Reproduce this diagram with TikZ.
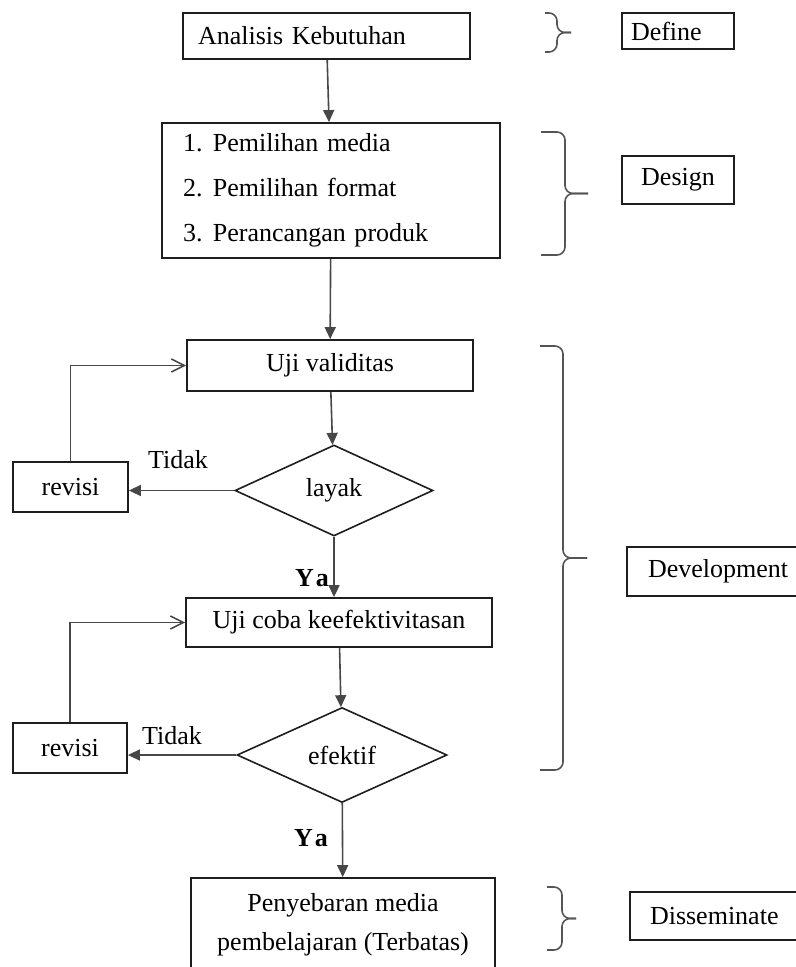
\documentclass[tikz,border=0pt]{standalone}
\usepackage{fontspec}
\setmainfont{Liberation Serif}
\usetikzlibrary{arrows.meta,shapes.geometric}
\definecolor{Ink}{HTML}{1E1E1E}
\definecolor{LineGray}{HTML}{474747}
\definecolor{BraceGray}{HTML}{555555}
\tikzset{
  stepbox/.style={
    draw=Ink, line width=0.9pt, fill=white, inner sep=0pt, align=center,
    font=\fontsize{13pt}{15pt}\selectfont
  },
  decision/.style={
    diamond, draw=Ink, line width=0.8pt, inner sep=0pt,
    font=\fontsize{13pt}{15pt}\selectfont
  },
  choice/.style={font=\fontsize{13pt}{15pt}\selectfont, inner sep=0pt},
  yes/.style={font=\fontsize{13pt}{15pt}\selectfont\bfseries, inner sep=0pt},
  flow/.style={-{Triangle[length=6pt,width=5.5pt]}, line width=0.8pt, draw=LineGray},
  backflow/.style={-{Straight Barb[length=6.5pt,width=6.5pt]}, line width=0.8pt, draw=LineGray},
  bracestroke/.style={draw=BraceGray, line width=0.8pt, rounded corners=4pt}
}
% brace: x0, xv, xtip, ytop, ybot
\newcommand{\phasebrace}[5]{%
  \draw[bracestroke] (#1,#4) -- (#2,#4) -- (#2,{(#4+#5)/2}) -- (#3,{(#4+#5)/2});
  \draw[bracestroke] (#1,#5) -- (#2,#5) -- (#2,{(#4+#5)/2}) -- (#3,{(#4+#5)/2});
}

\begin{document}
\begin{tikzpicture}[x=0.5pt,y=-0.5pt]
    \useasboundingbox (0,0) rectangle (796,967);
    % main column
    \node[stepbox,align=left,text width=128.5pt,inner xsep=7.5pt,minimum height=23pt] (analisis) at (326.5,36) {Analisis Kebutuhan};
    \node[stepbox,align=left,text width=148pt,inner xsep=10.5pt,minimum height=67.5pt,
      font=\fontsize{13pt}{22.5pt}\selectfont] (pilihan) at (331,190.5)
      {\makebox[15pt][l]{1.}Pemilihan media\\\makebox[15pt][l]{2.}Pemilihan format\\\makebox[15pt][l]{3.}Perancangan produk};
    \node[stepbox,minimum width=143pt,minimum height=25.5pt] (validitas) at (330,365.5) {Uji validitas};
    \node[decision,minimum width=99pt,minimum height=45.5pt] (layak) at (334,490.5) {layak};
    \node[stepbox,minimum width=57.5pt,minimum height=25pt] (revisiA) at (70.5,487) {revisi};
    \node[stepbox,minimum width=153pt,minimum height=24.5pt] (ujicoba) at (339,622.5) {Uji coba keefektivitasan};
    \node[decision,minimum width=105pt,minimum height=47.5pt] (efektif) at (342,755) {efektif};
    \node[stepbox,minimum width=57pt,minimum height=25pt] (revisiB) at (70,748) {revisi};
    \node[stepbox,minimum width=152pt,minimum height=47pt,
      font=\fontsize{13pt}{19.5pt}\selectfont] (sebar) at (343,925) {Penyebaran media\\pembelajaran (Terbatas)};
    % phases
    \node[stepbox,align=left,text width=47pt,inner xsep=4.5pt,minimum height=18pt] (define) at (678,31) {Define};
    \node[stepbox,minimum width=56pt,minimum height=24pt] (design) at (678,180) {Design};
    \node[stepbox,align=left,text width=100pt,inner xsep=10.5pt,minimum height=24.5pt] (development) at (748,571.5) {Development};
    \node[stepbox,align=left,text width=100pt,inner xsep=10pt,minimum height=24pt] (disseminate) at (750,916) {Disseminate};
    % labels
    \node[choice] (tidakA) at (178,460) {Tidak};
    \node[choice] (tidakB) at (172,736) {Tidak};
    \node[yes] (yaA) at (312,578) {Y\kern1pt a};
    \node[yes] (yaB) at (311,838) {Y\kern1pt a};
    % arrows
    \draw[flow] (analisis) -- (pilihan);
    \draw[flow] (pilihan) -- (validitas);
    \draw[flow] (validitas) -- (layak);
    \draw[flow] (layak.south) -- (layak.south |- ujicoba.north);
    \draw[flow] (layak.west) -- (layak.west -| revisiA.east);
    \draw[backflow] (revisiA.north) |- (validitas.west);
    \draw[flow] (ujicoba) -- (efektif);
    \draw[flow] (efektif.west) -- (efektif.west -| revisiB.east);
    \draw[backflow] (revisiB.north) |- (ujicoba.west);
    \draw[flow] (efektif) -- (sebar);
    % braces
    \phasebrace{545}{557}{571}{13}{52}
    \phasebrace{541}{565}{588}{132}{255}
    \phasebrace{540}{563}{587}{346}{770}
    \phasebrace{547}{562}{576}{887}{950}
  \end{tikzpicture}
\end{document}
